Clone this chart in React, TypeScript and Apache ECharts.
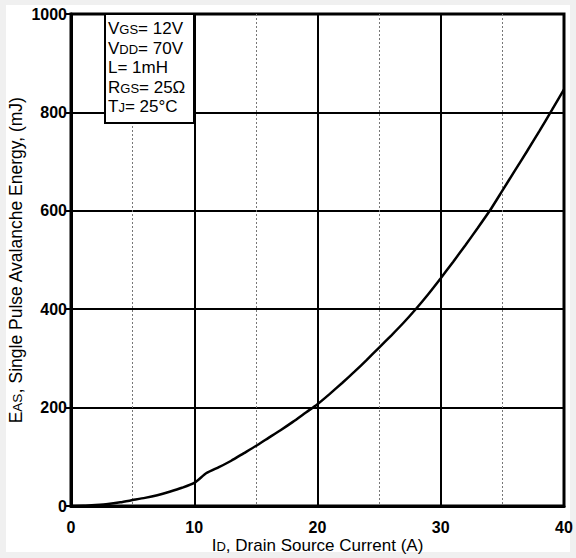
import React, { useEffect, useRef } from "react";
import * as echarts from "echarts";

const currentA: number[] = [0, 1, 2, 3, 4, 5, 6, 7, 8, 9, 10, 11, 12, 13, 14, 15, 16, 17, 18, 19, 20, 21, 22, 23, 24, 25, 26, 27, 28, 29, 30, 31, 32, 33, 34, 35, 36, 37, 38, 39, 40];
const energyMJ: number[] = [0, 0.5, 2, 4, 7.5, 12, 16.5, 22, 29, 37, 47, 67, 79, 92, 107, 122, 138, 154, 171, 189, 207, 228, 250, 273, 297, 322, 347, 373, 401, 431, 463, 496, 530, 565, 601, 641, 681, 721, 762, 804, 847];
const legendLines: { main: string; sub: string; rest: string }[] = [
  { main: "V", sub: "GS", rest: "= 12V" },
  { main: "V", sub: "DD", rest: "= 70V" },
  { main: "L", sub: "", rest: "= 1mH" },
  { main: "R", sub: "GS", rest: "= 25Ω" },
  { main: "T", sub: "J", rest: "= 25°C" },
];

const FONT = "Liberation Sans, Arial, sans-serif";

export default function App() {
  const ref = useRef<HTMLDivElement>(null);
  useEffect(() => {
    if (!ref.current) return;
    const chart = echarts.init(ref.current, undefined, { renderer: "svg" });
    const rich = {
      a: { fontSize: 17, fontFamily: FONT, color: "#000", verticalAlign: "bottom" as const },
      s: { fontSize: 13, fontFamily: FONT, color: "#000", verticalAlign: "bottom" as const, padding: [0, 0, 1, 0] },
    };
    const richY = {
      a: { fontSize: 17.5, fontFamily: FONT, color: "#000", verticalAlign: "bottom" as const },
      s: { fontSize: 13.5, fontFamily: FONT, color: "#000", verticalAlign: "bottom" as const, padding: [0, 0, 1, 0] },
    };
    const legendTexts = legendLines.map((l, i) => ({
      type: "text",
      left: 108,
      top: 20 + i * 19.5,
      style: {
        text: `{a|${l.main}}` + (l.sub ? `{s|${l.sub}}` : "") + `{a|${l.rest}}`,
        rich,
      },
      z: 101,
    }));
    chart.setOption({
      animation: false,
      backgroundColor: "transparent",
      grid: {
        left: 71,
        right: 12,
        top: 14,
        bottom: 52,
        show: true,
        borderColor: "#000",
        borderWidth: 3,
        backgroundColor: "transparent",
        outerBoundsMode: "none",
        containLabel: false,
      },
      xAxis: {
        type: "value",
        min: 0,
        max: 40,
        interval: 10,
        axisLine: { show: true, lineStyle: { color: "#000", width: 3 } },
        axisTick: { show: false },
        axisLabel: { color: "#000", fontSize: 16, fontWeight: "bold", fontFamily: FONT, margin: 13 },
        splitLine: { show: true, lineStyle: { color: "#000", width: 2 } },
        minorTick: { show: false, splitNumber: 2 },
        minorSplitLine: { show: true, lineStyle: { color: "#777", width: 1, type: [2, 2] } },
        name: "{a|I}{s|D}{a|, Drain Source Current (A)}",
        nameLocation: "middle",
        nameGap: 31,
        nameMoveOverlap: false,
        nameTextStyle: { rich },
      },
      yAxis: {
        type: "value",
        min: 0,
        max: 1000,
        interval: 200,
        axisLine: { show: true, lineStyle: { color: "#000", width: 3 } },
        axisTick: { show: true, length: 5, lineStyle: { color: "#000", width: 2 } },
        axisLabel: {
          color: "#000",
          fontSize: 16,
          fontWeight: "bold",
          fontFamily: FONT,
          margin: 4,
          formatter: (v: number) => String(v),
        },
        splitLine: { show: true, lineStyle: { color: "#000", width: 2 } },
        name: "{a|E}{s|AS}{a|, Single Pulse Avalanche Energy, (mJ)}",
        nameLocation: "middle",
        nameRotate: 90,
        nameGap: 46,
        nameMoveOverlap: false,
        nameTextStyle: { rich: richY },
      },
      series: [
        {
          type: "line",
          data: currentA.map((x, i) => [x, energyMJ[i]]),
          showSymbol: false,
          symbol: "none",
          smooth: 0.2,
          lineStyle: { color: "#000", width: 2.5 },
          z: 5,
        },
      ],
      graphic: [
        {
          type: "rect",
          left: 104,
          top: 13,
          shape: { width: 89, height: 109 },
          style: { fill: "#fff", stroke: "#000", lineWidth: 2 },
          z: 100,
        },
        ...legendTexts,
      ],
    });
    return () => chart.dispose();
  }, []);
  return (
    <div style={{ position: "fixed", left: 0, top: 0, width: 576, height: 558, background: "#f0f0f0" }}>
      <div style={{ position: "absolute", left: 6, top: 5, width: 564, height: 547, background: "#fff" }} />
      <div ref={ref} style={{ position: "absolute", left: 0, top: 0, width: 576, height: 558 }} />
    </div>
  );
}
